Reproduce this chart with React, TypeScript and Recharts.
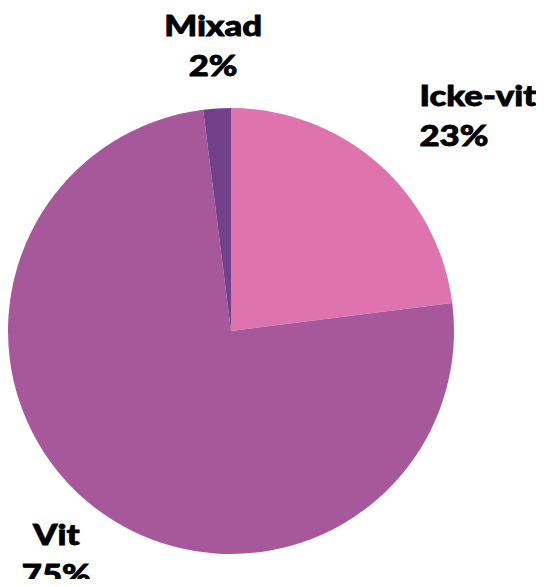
import { PieChart, Pie, Cell } from "recharts"

const categories = ["Icke-vit", "Vit", "Mixad"]
const shares = [23, 75, 2]
const colors = ["#DE73AE", "#A6589B", "#73418A"]

const data = categories.map((name, i) => ({ name, value: shares[i] }))

const RAD = Math.PI / 180

function renderLabel(props: any) {
  const { cx, cy, midAngle, outerRadius, index } = props
  const r = outerRadius + 62
  const x = cx + r * Math.cos(-midAngle * RAD)
  const y = cy + r * Math.sin(-midAngle * RAD)
  const anchor = x > cx + 100 ? "start" : "middle"
  // heavy, wide label font: stretch Lato Black a bit sideways
  return (
    <g transform={`translate(${x},${y}) scale(1.24,1)`}>
      <text
        x={0}
        y={0}
        textAnchor={anchor}
        fill="#000"
        stroke="#000"
        strokeWidth={0.8}
        style={{ fontFamily: "Lato", fontWeight: 900, fontSize: 28 }}
      >
        <tspan x={0} dy={-11}>{categories[index]}</tspan>
        <tspan x={0} dy={40}>{shares[index]}%</tspan>
      </text>
    </g>
  )
}

export default function App() {
  return (
    <div style={{ width: 544, height: 587, margin: -8 }}>
      <PieChart width={544} height={587} margin={{ top: 0, right: 0, bottom: 0, left: 0 }}>
        <Pie
          data={data}
          dataKey="value"
          cx={231}
          cy={331}
          outerRadius={223}
          startAngle={90}
          endAngle={-270}
          stroke="none"
          label={renderLabel}
          labelLine={false}
          isAnimationActive={false}
        >
          {data.map((d, i) => (
            <Cell key={d.name} fill={colors[i]} />
          ))}
        </Pie>
      </PieChart>
    </div>
  )
}
